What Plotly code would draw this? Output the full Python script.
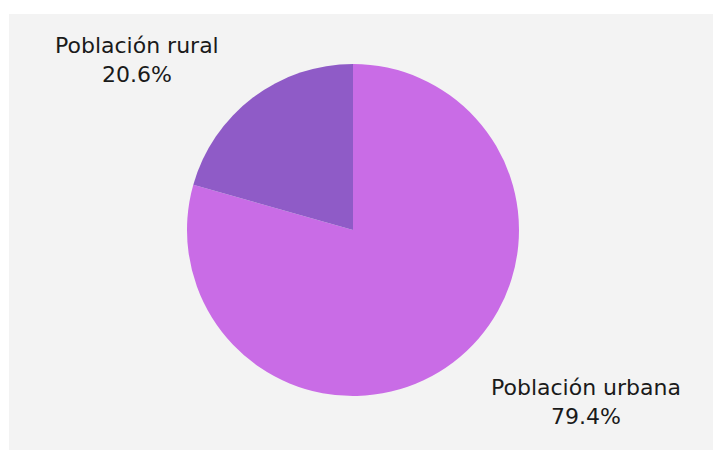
import plotly.graph_objects as go

labels = ["Población rural", "Población urbana"]
values = [20.6, 79.4]
colors = ["#8f5bc7", "#c96ce6"]

W, H = 713, 450
cx, cy, r = 353, 230, 166

# urban drawn first so that the rural slice sits left of 12 o'clock
fig = go.Figure(go.Pie(
    labels=labels[::-1],
    values=values[::-1],
    sort=False,
    direction="counterclockwise",
    rotation=0,
    marker=dict(colors=colors[::-1], line=dict(width=0)),
    textinfo="none",
    hoverinfo="label+percent",
    showlegend=False,
    domain=dict(x=[(cx - r) / W, (cx + r) / W],
                y=[(H - cy - r) / H, (H - cy + r) / H]),
))

label_pos = [(137, 60), (586, 402)]
for lab, val, (px, py) in zip(labels, values, label_pos):
    fig.add_annotation(
        x=px / W, y=1 - py / H, xref="paper", yref="paper",
        text=f"{lab}<br>{val:.1f}%", showarrow=False,
        font=dict(family="DejaVu Sans, sans-serif", size=22, color="#1a1a1a"),
        align="center", xanchor="center", yanchor="middle",
    )

fig.add_shape(type="rect", xref="paper", yref="paper",
              x0=9 / W, x1=1, y0=0, y1=1 - 14 / H,
              fillcolor="#f3f3f3", line=dict(width=0), layer="below")

fig.update_layout(
    width=W, height=H,
    margin=dict(l=0, r=0, t=0, b=0),
    paper_bgcolor="white",
    plot_bgcolor="white",
)

fig.write_html("out.html")
